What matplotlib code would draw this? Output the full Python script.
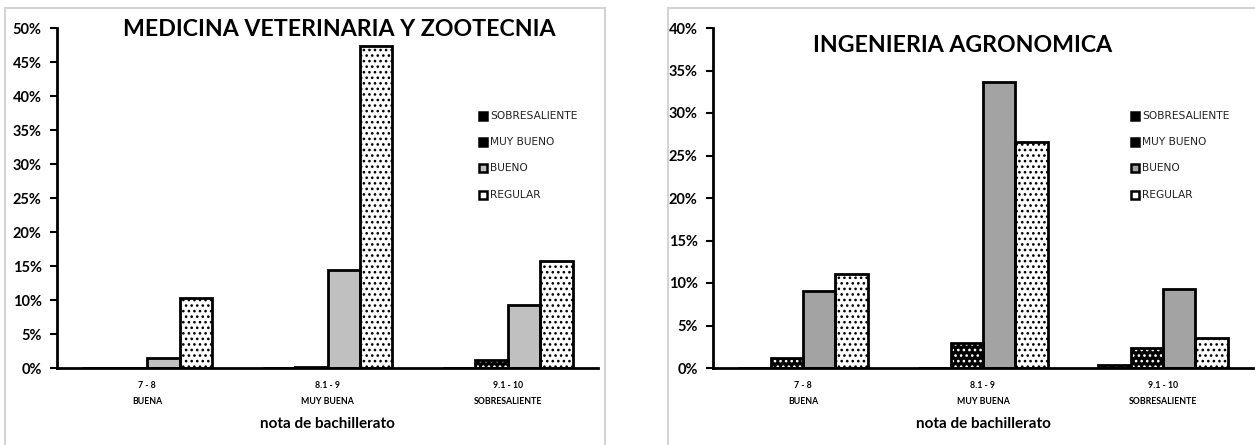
import matplotlib
matplotlib.use("Agg")
import matplotlib.pyplot as plt
from matplotlib.patches import Rectangle
import numpy as np

categories = ["7 - 8\nBUENA", "8.1 - 9\nMUY BUENA", "9.1 - 10\nSOBRESALIENTE"]
series = ["SOBRESALIENTE", "MUY BUENO", "BUENO", "REGULAR"]

mvz_sobresaliente = [0.0, 0.0, 0.0]
mvz_muy_bueno = [0.0, 0.2, 1.2]
mvz_bueno = [1.5, 14.4, 9.2]
mvz_regular = [10.3, 47.4, 15.7]

ia_sobresaliente = [0.0, 0.0, 0.3]
ia_muy_bueno = [1.2, 3.0, 2.4]
ia_bueno = [9.1, 33.7, 9.3]
ia_regular = [11.1, 26.6, 3.5]

titles = ["MEDICINA VETERINARIA Y ZOOTECNIA", "INGENIERIA AGRONOMICA"]
xlabel = "nota de bachillerato"

plt.rcParams['font.family'] = ['Lato', 'DejaVu Sans']
plt.rcParams['hatch.linewidth'] = 1.1

fig = plt.figure(figsize=(12.55, 4.45), dpi=100)

W, H = 1255, 445
def frect(x0, y0, x1, y1):
    fig.patches.append(Rectangle((x0 / W, 1 - y1 / H), (x1 - x0) / W, (y1 - y0) / H,
                                 transform=fig.transFigure, fill=False,
                                 edgecolor='#d4d4d4', linewidth=1.5, zorder=0))
frect(5, 8, 605, 470)
frect(668, 8, 1290, 470)

def panel(rect, data, ymax, title, title_xy, bueno_color, leg_x):
    ax = fig.add_axes(rect)
    x = np.arange(len(categories))
    w = 0.18
    styles = [
        dict(face='black', hatch='..', hcol='white'),
        dict(face='black', hatch='...', hcol='white'),
        dict(face=bueno_color, hatch=None, hcol=None),
        dict(face='white', hatch='...', hcol='black'),
    ]
    for i, (vals, st) in enumerate(zip(data, styles)):
        pos = x + (i - 1.5) * w
        if st['hatch']:
            ax.bar(pos, vals, w, color=st['face'], edgecolor=st['hcol'],
                   hatch=st['hatch'], linewidth=0, zorder=2)
        else:
            ax.bar(pos, vals, w, color=st['face'], linewidth=0, zorder=2)
        ax.bar(pos, vals, w, fill=False, edgecolor='black', linewidth=2, zorder=3)
    ax.set_xlim(-0.5, 2.5)
    ax.set_ylim(0, ymax)
    ticks = np.arange(0, ymax + 0.1, 5)
    ax.set_yticks(ticks)
    ax.set_yticklabels([f"{int(v)}%" for v in ticks], fontsize=10.5, fontweight='bold')
    ax.set_xticks(x)
    ax.set_xticklabels(categories, fontsize=6.3, fontweight='bold', linespacing=2.0)
    ax.tick_params(axis='x', length=0, pad=9)
    ax.tick_params(axis='y', length=5, width=1.5, pad=6)
    for s in ['top', 'right']:
        ax.spines[s].set_visible(False)
    for s in ['left', 'bottom']:
        ax.spines[s].set_linewidth(2)
    ax.set_xlabel(xlabel, fontsize=11, fontweight='bold', labelpad=8)
    fig.text(title_xy[0] / W, 1 - title_xy[1] / H, title, fontsize=16.7,
             fontweight='bold', ha='center', va='center')
    leg_colors = ['black', 'black', bueno_color, 'white']
    ys = [116, 142, 168, 195]
    for name, fc, yy in zip(series, leg_colors, ys):
        fig.patches.append(Rectangle(((leg_x - 4) / W, 1 - (yy + 4) / H), 8 / W, 8 / H,
                                     transform=fig.transFigure, facecolor=fc,
                                     edgecolor='black', linewidth=1.8, zorder=5))
        fig.text((leg_x + 7) / W, 1 - yy / H, name, fontsize=7.7,
                 family='DejaVu Sans', color='#222222', ha='left', va='center')
    return ax

panel([57 / W, 1 - 368 / H, 541 / W, 340 / H],
      [mvz_sobresaliente, mvz_muy_bueno, mvz_bueno, mvz_regular],
      50, titles[0], (339, 29), '#c0c0c0', 483)
panel([713 / W, 1 - 368 / H, 540 / W, 340 / H],
      [ia_sobresaliente, ia_muy_bueno, ia_bueno, ia_regular],
      40, titles[1], (963, 45), '#a3a3a3', 1135)

fig.savefig("out.png", dpi=100)
